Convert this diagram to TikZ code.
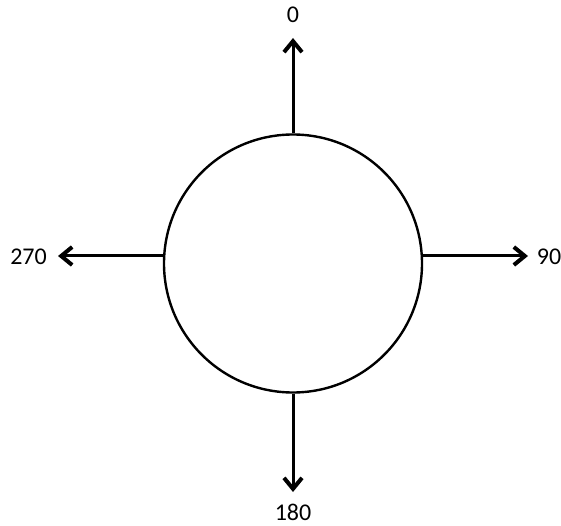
\documentclass[tikz,border=0pt]{standalone}
\usepackage{fontspec}
\setmainfont{Carlito}
\usepackage{tikz}
\usetikzlibrary{arrows.meta,positioning}

\begin{document}
\begin{tikzpicture}[
    x=1pt, y=1pt,
    every node/.style={font=\fontsize{12}{14}\selectfont},
    ring/.style={circle, draw=black, line width=1.2pt, minimum size=129pt, inner sep=0pt},
    lbl/.style={inner sep=0pt},
    arrow/.style={-{Straight Barb[length=5.5pt, width=9pt, line width=2pt]}, black, line width=1.5pt}
    ]
    \useasboundingbox (0,0) rectangle (280.5,262.5);
    \node[ring] (C) at (146.5,130.75) {};
    \node[lbl] (L0) at (146.5,255) {0};
    \node[lbl] (L90) at (274.5,134) {90};
    \node[lbl] (L180) at (146.5,6.5) {180};
    \node[lbl] (L270) at (14.25,134) {270};
    \coordinate (T0) at (146.5,243.5);
    \coordinate (T90) at (264,134.5);
    \coordinate (T180) at (146.5,16.5);
    \coordinate (T270) at (29,134.5);
    \draw[arrow] (C.north) -- (T0);
    \draw[arrow] (C.south) -- (T180);
    \draw[arrow] (C.east |- T90) -- (T90);
    \draw[arrow] (C.west |- T270) -- (T270);
  \end{tikzpicture}
\end{document}
